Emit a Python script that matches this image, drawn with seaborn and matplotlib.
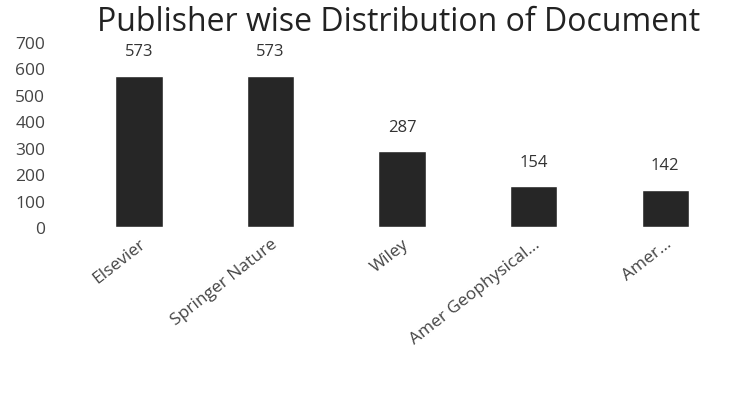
import matplotlib
matplotlib.use("Agg")
import matplotlib.pyplot as plt
import seaborn as sns
import pandas as pd

publishers = ["Elsevier", "Springer Nature", "Wiley", "Amer Geophysical...", "Amer..."]
documents = [573, 573, 287, 154, 142]
y_ticks = [0, 100, 200, 300, 400, 500, 600, 700]

sns.set_theme(style="white")
plt.rcParams["font.family"] = ["Open Sans", "DejaVu Sans"]

df = pd.DataFrame({"Publisher": publishers, "Documents": documents})

fig = plt.figure(figsize=(7.31, 4.06), dpi=100)
ax = fig.add_axes([0.10, 0.438, 0.90, 0.456])
sns.barplot(data=df, x="Publisher", y="Documents", color="#262626",
            width=0.36, ax=ax, saturation=1)
ax.set_ylim(0, 700)
ax.set_yticks(y_ticks)
ax.set_yticklabels([str(t) for t in y_ticks], fontsize=12.5, color="#444444")
ax.tick_params(axis="y", length=0, pad=20)
ax.tick_params(axis="x", length=0, pad=6)
ax.set_xticks(range(len(publishers)))
ax.set_xticklabels(publishers, rotation=38, ha="right", rotation_mode="anchor",
                   fontsize=12.5, color="#444444")
for s in ax.spines.values():
    s.set_visible(False)
ax.set_xlabel("")
ax.set_ylabel("")
ax.bar_label(ax.containers[0], labels=[str(v) for v in documents],
             padding=12, fontsize=12, color="#333333")
fig.text(0.545, 0.945, "Publisher wise Distribution of Document", ha="center",
         va="center", fontsize=23, color="#222222")
fig.savefig("out.png", dpi=100)
